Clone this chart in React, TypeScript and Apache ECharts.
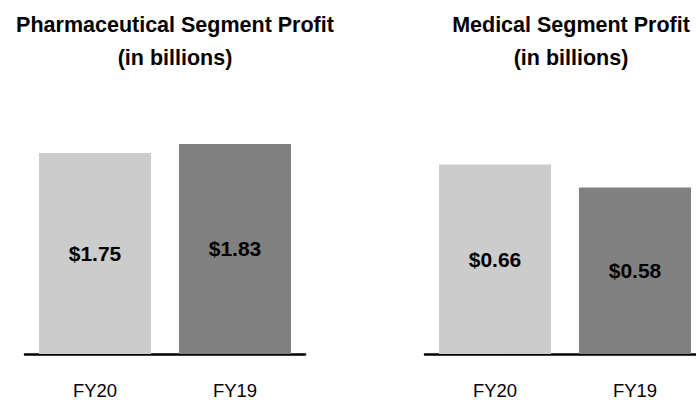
import React, { useEffect, useRef } from "react";
import * as echarts from "echarts";

const categories = ["FY20", "FY19"];
const pharmaValues = [1.75, 1.83];
const medicalValues = [0.66, 0.58];
const panelTitles = ["Pharmaceutical Segment Profit\n(in billions)", "Medical Segment Profit\n(in billions)"];

const BAR_COLORS = ["#cccccc", "#808080"];
const FONT = "'Liberation Sans', Arial, sans-serif";

export default function App() {
  const ref = useRef<HTMLDivElement>(null);
  useEffect(() => {
    if (!ref.current) return;
    const chart = echarts.init(ref.current, null, { renderer: "svg" });
    const xAxisCommon = {
      type: "category" as const,
      data: categories,
      axisTick: { show: false },
      axisLine: { show: true, lineStyle: { color: "#000", width: 2.5 } },
      axisLabel: { color: "#000", fontSize: 18.5, fontFamily: FONT, margin: 27 },
    };
    const yAxisCommon = {
      type: "value" as const,
      min: 0,
      show: false,
      splitLine: { show: false },
    };
    const seriesCommon = (idx: number, data: number[]) => ({
      type: "bar" as const,
      xAxisIndex: idx,
      yAxisIndex: idx,
      data,
      barWidth: "80%",
      itemStyle: { color: (p: any) => BAR_COLORS[p.dataIndex] },
      label: {
        show: true,
        position: "inside",
        color: "#000",
        fontSize: 21,
        fontWeight: "bold",
        fontFamily: FONT,
        formatter: (p: any) => "$" + Number(p.value).toFixed(2),
      },
    });
    const titleStyle = { fontSize: 21.5, fontWeight: "bold" as const, color: "#000", fontFamily: FONT, lineHeight: 33 };
    chart.setOption({
      animation: false,
      backgroundColor: "#ffffff",
      title: [
        { text: panelTitles[0], left: 175, top: 8, textAlign: "center", padding: 0, textStyle: titleStyle },
        { text: panelTitles[1], left: 571, top: 8, textAlign: "center", padding: 0, textStyle: titleStyle },
      ],
      grid: [
        { left: 25, width: 280, top: 124.4, bottom: 45 },
        { left: 425, width: 280, top: 124.4, bottom: 45 },
      ],
      xAxis: [
        { ...xAxisCommon, gridIndex: 0 },
        { ...xAxisCommon, gridIndex: 1 },
      ],
      yAxis: [
        { ...yAxisCommon, gridIndex: 0, max: 2.0 },
        { ...yAxisCommon, gridIndex: 1, max: 0.8 },
      ],
      series: [seriesCommon(0, pharmaValues), seriesCommon(1, medicalValues)],
    });
    return () => chart.dispose();
  }, []);
  return (
    <div style={{ width: 696, height: 400, position: "absolute", left: 0, top: 0, overflow: "hidden" }}>
      <div ref={ref} style={{ width: 720, height: 400 }} />
    </div>
  );
}
